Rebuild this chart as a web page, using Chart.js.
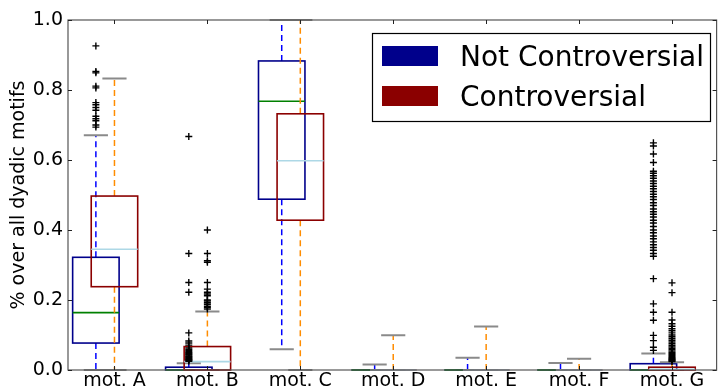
<!DOCTYPE html>
<html>
<head>
<meta charset="utf-8">
<script src="https://cdn.jsdelivr.net/npm/chart.js@4"></script>
<style>
  body { margin: 0; background: #fff; }
  canvas { display: block; }
</style>
</head>
<body>
<canvas id="chart" width="722" height="390"></canvas>
<script>
const categories = ["mot. A", "mot. B", "mot. C", "mot. D", "mot. E", "mot. F", "mot. G"];
const yTicks = [0, 0.2, 0.4, 0.6, 0.8, 1.0];

// Not controversial: whisker ends, quartiles, median
const notLow    = [0,     0,     0.059, 0,     0,     0,    0];
const notQ1     = [0.077, 0,     0.488, 0,     0,     0,    0];
const notMedian = [0.164, 0,     0.768, 0,     0,     0,    0];
const notQ3     = [0.322, 0.008, 0.883, 0,     0,     0,    0.018];
const notHigh   = [0.671, 0.019, 1.0,   0.016, 0.035, 0.02, 0.047];

// Controversial
const conLow    = [0,     0,     0,     0,     0,     0,     0];
const conQ1     = [0.238, 0,     0.428, 0,     0,     0,     0];
const conMedian = [0.345, 0.024, 0.598, 0,     0,     0,     0.002];
const conQ3     = [0.497, 0.067, 0.732, 0,     0,     0,     0.008];
const conHigh   = [0.833, 0.167, 1.0,   0.099, 0.124, 0.032, 0.022];

const notOutliers = [
  [0.926, 0.853, 0.849, 0.811, 0.806, 0.764, 0.758, 0.75, 0.742, 0.725, 0.718, 0.712, 0.70, 0.694],
  [0.667, 0.333, 0.25, 0.222, 0.106, 0.083, 0.077, 0.071, 0.063, 0.059, 0.056, 0.053, 0.05, 0.048,
   0.045, 0.043, 0.04, 0.038, 0.036, 0.034, 0.032, 0.03, 0.029, 0.027, 0.025],
  [], [], [], [],
  [0.649, 0.64, 0.617, 0.593, 0.568, 0.562, 0.555, 0.548, 0.54, 0.533, 0.525, 0.518, 0.51, 0.502,
   0.495, 0.487, 0.478, 0.47, 0.46, 0.452, 0.445, 0.437, 0.428, 0.42, 0.41, 0.4, 0.392, 0.383,
   0.375, 0.366, 0.358, 0.35, 0.342, 0.333, 0.325, 0.261, 0.189, 0.165, 0.142, 0.099, 0.084,
   0.065, 0.056]
];
const conOutliers = [
  [],
  [0.4, 0.333, 0.312, 0.308, 0.25, 0.231, 0.222, 0.217, 0.212, 0.2, 0.197, 0.192, 0.188, 0.182,
   0.178, 0.174],
  [], [], [], [],
  [0.249, 0.221, 0.165, 0.143, 0.132, 0.125, 0.118, 0.112, 0.106, 0.1, 0.095, 0.09, 0.085, 0.08,
   0.075, 0.07, 0.066, 0.062, 0.058, 0.054, 0.05, 0.047, 0.044, 0.041, 0.038, 0.035, 0.032, 0.03,
   0.028, 0.026, 0.024]
];

const notOffset = -0.2, conOffset = 0;
const boxWidth = 0.5, capWidth = 0.26;
const FONT = "DejaVu Sans";

function outlierPoints(lists, offset) {
  let pts = [];
  lists.forEach((vals, i) => {
    vals.forEach(v => pts.push({ x: i + 1 + offset, y: v }));
  });
  return pts;
}

function drawBoxes(ctx, x, y, offset, stats, colors) {
  for (let i = 0; i < categories.length; i++) {
    let pos = i + 1 + offset;
    let cx = x.getPixelForValue(pos);
    let halfBox = x.getPixelForValue(pos + boxWidth / 2) - cx;
    let halfCap = x.getPixelForValue(pos + capWidth / 2) - cx;
    let yLow = y.getPixelForValue(stats.low[i]);
    let yQ1 = y.getPixelForValue(stats.q1[i]);
    let yMed = y.getPixelForValue(stats.median[i]);
    let yQ3 = y.getPixelForValue(stats.q3[i]);
    let yHigh = y.getPixelForValue(stats.high[i]);

    // whiskers
    ctx.save();
    ctx.strokeStyle = colors.whisker;
    ctx.lineWidth = 1.5;
    ctx.setLineDash([6, 4]);
    ctx.beginPath();
    ctx.moveTo(cx, yQ3); ctx.lineTo(cx, yHigh);
    ctx.moveTo(cx, yQ1); ctx.lineTo(cx, yLow);
    ctx.stroke();
    ctx.restore();

    // caps
    ctx.strokeStyle = "#8a8a8a";
    ctx.lineWidth = 2;
    ctx.beginPath();
    ctx.moveTo(cx - halfCap, yHigh); ctx.lineTo(cx + halfCap, yHigh);
    ctx.moveTo(cx - halfCap, yLow); ctx.lineTo(cx + halfCap, yLow);
    ctx.stroke();

    // box
    ctx.strokeStyle = colors.box;
    ctx.lineWidth = 1.6;
    ctx.strokeRect(cx - halfBox, yQ3, halfBox * 2, yQ1 - yQ3);

    // median
    ctx.strokeStyle = colors.median;
    ctx.lineWidth = 1.6;
    ctx.beginPath();
    ctx.moveTo(cx - halfBox, yMed); ctx.lineTo(cx + halfBox, yMed);
    ctx.stroke();
  }
}

const boxPlugin = {
  id: "boxes",
  beforeDatasetsDraw(chart) {
    const { ctx, scales: { x, y } } = chart;
    drawBoxes(ctx, x, y, notOffset,
      { low: notLow, q1: notQ1, median: notMedian, q3: notQ3, high: notHigh },
      { whisker: "#0000ff", box: "#00008b", median: "#008000" });
    drawBoxes(ctx, x, y, conOffset,
      { low: conLow, q1: conQ1, median: conMedian, q3: conQ3, high: conHigh },
      { whisker: "#ff8c00", box: "#8b0000", median: "#add8e6" });
  },
  afterDraw(chart) {
    const { ctx, chartArea: a, scales: { x, y } } = chart;

    // frame and inward ticks
    ctx.strokeStyle = "#555";
    ctx.lineWidth = 1.2;
    ctx.strokeRect(a.left, a.top, a.right - a.left, a.bottom - a.top);
    ctx.strokeStyle = "#222";
    ctx.lineWidth = 1;
    ctx.beginPath();
    categories.forEach((c, i) => {
      let px = Math.round(x.getPixelForValue(i + 1)) + 0.5;
      ctx.moveTo(px, a.top); ctx.lineTo(px, a.top + 4);
      ctx.moveTo(px, a.bottom); ctx.lineTo(px, a.bottom - 4);
    });
    yTicks.forEach(v => {
      let py = Math.round(y.getPixelForValue(v)) + 0.5;
      ctx.moveTo(a.left, py); ctx.lineTo(a.left + 4, py);
      ctx.moveTo(a.right, py); ctx.lineTo(a.right - 4, py);
    });
    ctx.stroke();

    // legend
    ctx.fillStyle = "#fff";
    ctx.fillRect(372, 33, 339, 89);
    ctx.strokeStyle = "#000";
    ctx.lineWidth = 1.2;
    ctx.strokeRect(372.5, 33.5, 338, 88);
    ctx.fillStyle = "#00008b";
    ctx.fillRect(382, 46, 56, 20);
    ctx.fillStyle = "#8b0000";
    ctx.fillRect(382, 86, 56, 20);
    ctx.fillStyle = "#000";
    ctx.font = "28px '" + FONT + "'";
    ctx.textBaseline = "alphabetic";
    ctx.textAlign = "left";
    ctx.fillText("Not Controversial", 460, 66);
    ctx.fillText("Controversial", 460, 106);
  }
};

Chart.defaults.font.family = FONT;
Chart.defaults.color = "#000";

new Chart(document.getElementById("chart"), {
  type: "scatter",
  data: {
    datasets: [
      {
        label: "Not Controversial",
        data: outlierPoints(notOutliers, notOffset),
        pointStyle: "cross",
        radius: 3.5,
        borderColor: "#000",
        borderWidth: 1.4
      },
      {
        label: "Controversial",
        data: outlierPoints(conOutliers, conOffset),
        pointStyle: "cross",
        radius: 3.5,
        borderColor: "#000",
        borderWidth: 1.4
      }
    ]
  },
  options: {
    responsive: false,
    animation: false,
    layout: { padding: { top: 20, left: 0, right: 0, bottom: 0 } },
    plugins: { legend: { display: false }, tooltip: { enabled: false } },
    scales: {
      x: {
        type: "linear",
        min: 0.5,
        max: 7.48,
        afterBuildTicks: scale => { scale.ticks = categories.map((c, i) => ({ value: i + 1 })); },
        afterFit: scale => { scale.height = 20; },
        ticks: {
          callback: v => categories[v - 1],
          font: { size: 19 },
          padding: 0,
          maxRotation: 0,
          autoSkip: false
        },
        grid: { display: false, drawTicks: false },
        border: { display: false }
      },
      y: {
        min: 0,
        max: 1,
        afterBuildTicks: scale => { scale.ticks = yTicks.map(v => ({ value: v })); },
        afterFit: scale => { scale.width = 68; },
        ticks: {
          callback: v => v.toFixed(1),
          font: { size: 19 },
          padding: 5
        },
        grid: { display: false, drawTicks: false },
        border: { display: false },
        title: {
          display: true,
          text: "% over all dyadic motifs",
          font: { size: 19 },
          padding: { top: 8, bottom: 0 }
        }
      }
    }
  },
  plugins: [boxPlugin]
});
</script>
</body>
</html>
